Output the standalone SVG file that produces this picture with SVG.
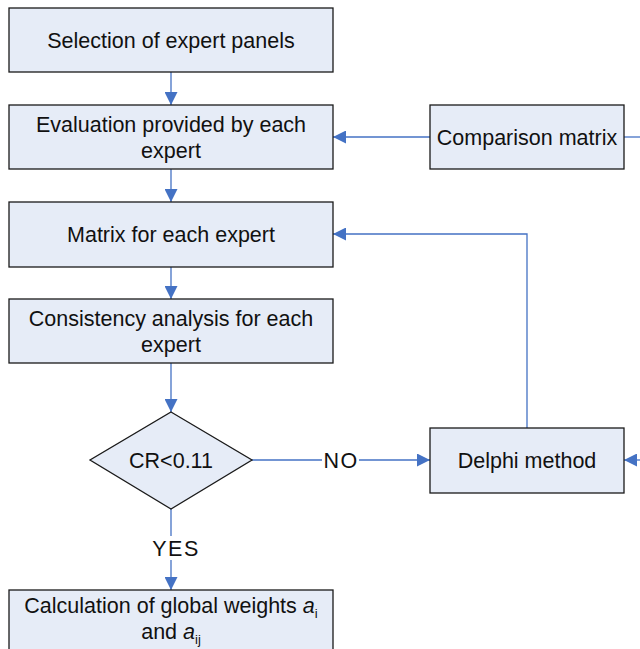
<svg xmlns="http://www.w3.org/2000/svg" width="640" height="649" viewBox="0 0 640 649">
<style>
.box{fill:#E6ECF7;stroke:#1a1a1a;stroke-width:1.3}
.t{font-family:"Liberation Sans",Arial,sans-serif;font-size:21.5px;fill:#111;text-anchor:middle}
.c{fill:none;stroke:#4472C4;stroke-width:1.3}
</style>
<defs>
<marker id="ah" viewBox="0 0 10 10" refX="10" refY="5" markerWidth="14" markerHeight="13" markerUnits="userSpaceOnUse" orient="auto">
<path d="M0,0 L10,5 L0,10 z" fill="#4472C4"/>
</marker>
</defs>
<rect width="640" height="649" fill="#fff"/>
<g id="connectors">
<line class="c" x1="171" y1="72" x2="171" y2="105" marker-end="url(#ah)"/>
<line class="c" x1="171" y1="169" x2="171" y2="202" marker-end="url(#ah)"/>
<line class="c" x1="171" y1="267" x2="171" y2="299" marker-end="url(#ah)"/>
<line class="c" x1="171" y1="363" x2="171" y2="412" marker-end="url(#ah)"/>
<line class="c" x1="430" y1="137" x2="333" y2="137" marker-end="url(#ah)"/>
<line class="c" x1="624" y1="137" x2="640" y2="137"/>
<polyline class="c" points="527,428 527,234 333,234" marker-end="url(#ah)"/>
<line class="c" x1="252" y1="460" x2="322" y2="460"/>
<line class="c" x1="359" y1="460" x2="430" y2="460" marker-end="url(#ah)"/>
<line class="c" x1="640" y1="460" x2="624" y2="460" marker-end="url(#ah)"/>
<line class="c" x1="171" y1="509" x2="171" y2="536"/>
<line class="c" x1="171" y1="560" x2="171" y2="590" marker-end="url(#ah)"/>
<text class="t" x="341" y="468" letter-spacing="1.5">NO</text>
<text class="t" x="176" y="556" letter-spacing="1.5">YES</text>
</g>
<g id="n1"><rect class="box" x="9" y="8" width="324" height="64"/><text class="t" x="171" y="48">Selection of expert panels</text></g>
<g id="n2"><rect class="box" x="9" y="105" width="324" height="64"/><text class="t" x="171" y="132">Evaluation provided by each</text><text class="t" x="171" y="158">expert</text></g>
<g id="n3"><rect class="box" x="430" y="105" width="194" height="64"/><text class="t" x="527" y="145">Comparison matrix</text></g>
<g id="n4"><rect class="box" x="9" y="202" width="324" height="65"/><text class="t" x="171" y="242">Matrix for each expert</text></g>
<g id="n5"><rect class="box" x="9" y="299" width="324" height="64"/><text class="t" x="171" y="326">Consistency analysis for each</text><text class="t" x="171" y="352">expert</text></g>
<g id="n6"><polygon class="box" points="171,412 252,460 171,509 90,460"/><text class="t" x="171" y="468">CR&lt;0.11</text></g>
<g id="n7"><rect class="box" x="430" y="428" width="194" height="65"/><text class="t" x="527" y="468">Delphi method</text></g>
<g id="n8"><rect class="box" x="9" y="590" width="324" height="70"/><text class="t" x="171" y="613">Calculation of global weights <tspan font-style="italic">a</tspan><tspan font-size="13" dy="5">i</tspan></text><text class="t" x="171" y="639">and <tspan font-style="italic">a</tspan><tspan font-size="13" dy="5">ij</tspan></text></g>
</svg>
